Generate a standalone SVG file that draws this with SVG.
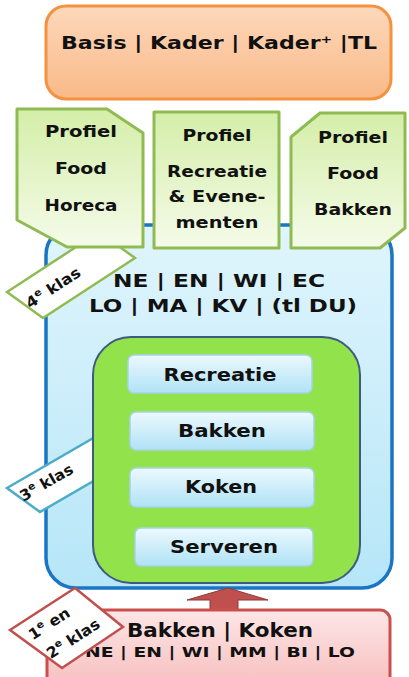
<svg xmlns="http://www.w3.org/2000/svg" width="409" height="677" viewBox="0 0 409 677">
<defs>
<linearGradient id="gOr" x1="0" y1="0" x2="0" y2="1"><stop offset="0" stop-color="#fdd8bc"/><stop offset="1" stop-color="#f9b987"/></linearGradient>
<linearGradient id="gGr" x1="0" y1="0" x2="0" y2="1"><stop offset="0" stop-color="#d4eea8"/><stop offset="1" stop-color="#f5fbea"/></linearGradient>
<linearGradient id="gBl" x1="0" y1="0" x2="0" y2="1"><stop offset="0" stop-color="#e0f5fc"/><stop offset="1" stop-color="#b6e6f8"/></linearGradient>
<linearGradient id="gBt" x1="0" y1="0" x2="0" y2="1"><stop offset="0" stop-color="#ecf9fe"/><stop offset="1" stop-color="#b0e2f6"/></linearGradient>
<linearGradient id="gRd" x1="0" y1="0" x2="0" y2="1"><stop offset="0" stop-color="#fde6e6"/><stop offset="1" stop-color="#f7bdbd"/></linearGradient>
</defs>
<style>
text{font-family:"DejaVu Sans","Verdana",sans-serif;font-weight:bold;fill:#111;text-anchor:middle}
.prof{fill:url(#gGr);stroke:#8fbb52;stroke-width:3;stroke-linejoin:round}
.btn{fill:url(#gBt);stroke:#a6d2ea;stroke-width:1.5}
.p{font-size:15px}
.b{font-size:18px}
.l{font-size:15px}
</style>
<rect width="409" height="677" fill="#ffffff"/>

<g id="top">
<rect x="46" y="6" width="345" height="93" rx="20" fill="url(#gOr)" stroke="#f5923e" stroke-width="3"/>
<text x="219" y="49" font-size="18" textLength="316" lengthAdjust="spacingAndGlyphs">Basis | Kader | Kader⁺ |TL</text>
</g>

<g id="klas4blok">
<rect x="46" y="225" width="346" height="363" rx="30" fill="url(#gBl)" stroke="#1b75c4" stroke-width="3.5"/>
<text x="219" y="287" font-size="17" textLength="212" lengthAdjust="spacingAndGlyphs">NE | EN | WI | EC</text>
<text x="223" y="312" font-size="17" textLength="268" lengthAdjust="spacingAndGlyphs">LO | MA | KV | (tl DU)</text>
</g>

<g id="label4">
<polygon points="7,292 43,318 135,258 99,232" fill="#ffffff" stroke="#8fbb52" stroke-width="2.5"/>
<text class="l" transform="translate(56,292) rotate(-33)" textLength="62" lengthAdjust="spacingAndGlyphs">4<tspan font-size="10" dy="-6">e</tspan><tspan dy="6"> klas</tspan></text>
</g>

<g id="profiel-horeca">
<polygon class="prof" points="17,109 107,109 143,133 143,247 67,247 17,220"/>
<text class="p" x="81" y="137" textLength="72" lengthAdjust="spacingAndGlyphs">Profiel</text>
<text class="p" x="81" y="174" textLength="52" lengthAdjust="spacingAndGlyphs">Food</text>
<text class="p" x="81" y="211" textLength="73" lengthAdjust="spacingAndGlyphs">Horeca</text>
</g>

<g id="profiel-recreatie">
<rect class="prof" x="154" y="112" width="125" height="136"/>
<text class="p" x="217" y="141" textLength="69" lengthAdjust="spacingAndGlyphs">Profiel</text>
<text class="p" x="217" y="177" textLength="100" lengthAdjust="spacingAndGlyphs">Recreatie</text>
<text class="p" x="217" y="202" textLength="97" lengthAdjust="spacingAndGlyphs">&amp; Evene-</text>
<text class="p" x="217" y="228" textLength="83" lengthAdjust="spacingAndGlyphs">menten</text>
</g>

<g id="profiel-bakken">
<polygon class="prof" points="291,137 320,113 405,113 405,228 380,248 291,248"/>
<text class="p" x="353" y="143" textLength="70" lengthAdjust="spacingAndGlyphs">Profiel</text>
<text class="p" x="353" y="179" textLength="52" lengthAdjust="spacingAndGlyphs">Food</text>
<text class="p" x="353" y="215" textLength="78" lengthAdjust="spacingAndGlyphs">Bakken</text>
</g>

<g id="label3">
<polygon points="7,488 102,433 135,457 40,512" fill="#ffffff" stroke="#4bacc6" stroke-width="2.5"/>
<text class="l" transform="translate(49,487) rotate(-30)" textLength="59" lengthAdjust="spacingAndGlyphs">3<tspan font-size="10" dy="-6">e</tspan><tspan dy="6"> klas</tspan></text>
</g>

<g id="klas3blok">
<rect x="93" y="337" width="267" height="246" rx="38" fill="#92e24c" stroke="#3e5a7e" stroke-width="2"/>
</g>

<g id="recreatie">
<rect class="btn" x="128" y="355" width="184" height="38" rx="6"/>
<text class="b" x="220" y="381" textLength="113" lengthAdjust="spacingAndGlyphs">Recreatie</text>
</g>
<g id="bakken">
<rect class="btn" x="130" y="412" width="184" height="38" rx="6"/>
<text class="b" x="222" y="437" textLength="88" lengthAdjust="spacingAndGlyphs">Bakken</text>
</g>
<g id="koken">
<rect class="btn" x="130" y="468" width="184" height="39" rx="6"/>
<text class="b" x="221" y="493" textLength="72" lengthAdjust="spacingAndGlyphs">Koken</text>
</g>
<g id="serveren">
<rect class="btn" x="135" y="528" width="178" height="38" rx="6"/>
<text class="b" x="224" y="553" textLength="108" lengthAdjust="spacingAndGlyphs">Serveren</text>
</g>

<g id="connectors">
<polygon points="210,612 210,600 187,600 228,588 268,600 238,600 238,612" fill="#c0504d" stroke="#8c3a38" stroke-width="1"/>
</g>

<g id="basis">
<rect x="47" y="610" width="343" height="80" rx="10" fill="url(#gRd)" stroke="#c9504e" stroke-width="3"/>
<text x="220" y="637" font-size="19" textLength="186" lengthAdjust="spacingAndGlyphs">Bakken | Koken</text>
<text x="220" y="657" font-size="14" textLength="270" lengthAdjust="spacingAndGlyphs">NE | EN | WI | MM | BI | LO</text>
</g>

<g id="label12">
<polygon points="10,630 75,588 123,627 62,668" fill="#ffffff" stroke="#c0504d" stroke-width="2.5"/>
<text class="l" transform="translate(52,628) rotate(-33)" textLength="46" lengthAdjust="spacingAndGlyphs">1<tspan font-size="10" dy="-6">e</tspan><tspan dy="6"> en</tspan></text>
<text class="l" transform="translate(76,643) rotate(-33)" textLength="60" lengthAdjust="spacingAndGlyphs">2<tspan font-size="10" dy="-6">e</tspan><tspan dy="6"> klas</tspan></text>
</g>
</svg>
